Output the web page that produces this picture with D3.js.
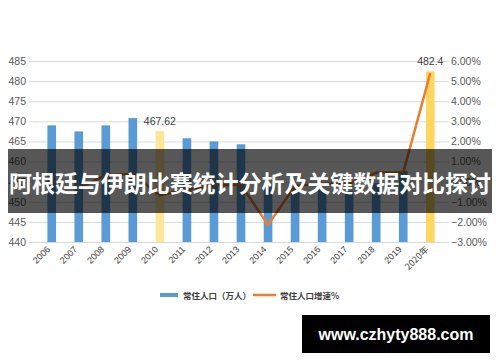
<!DOCTYPE html>
<html>
<head>
<meta charset="utf-8">
<script src="https://cdn.jsdelivr.net/npm/d3@7"></script>
<style>
  body { margin: 0; background: #fff; }
  svg text { font-family: "Liberation Sans", Arial, sans-serif; }
  .cjk { font-family: "Noto Sans CJK SC", sans-serif; }
</style>
</head>
<body>
<div id="app"></div>
<script>
const years = ['2006', '2007', '2008', '2009', '2010', '2011', '2012', '2013', '2014', '2015', '2016', '2017', '2018', '2019', '2020年'];
const population = [469, 467.5, 469, 470.8, 467.62, 465.8, 465, 464.3, 454.3, 453.5, 453.0, 452.6, 454.6, 457.7, 482.4];
// growth %, first year has no value
const growth = [null, -0.32, 0.32, 0.38, -0.68, -0.39, -0.17, -0.15, -2.15, -0.2, -0.1, -0.1, 0.45, 0.45, 5.4];
const leftTicks = [440, 445, 450, 455, 460, 465, 470, 475, 480, 485];
const rightTicks = [-3, -2, -1, 0, 1, 2, 3, 4, 5, 6];
const highlight = { '2010': '#ffe699', '2020年': '#ffd75e' };
const valueLabels = { '2010': '467.62', '2020年': '482.4' };
const title = '阿根廷与伊朗比赛统计分析及关键数据对比探讨';
const site = 'www.czhyty888.com';

function render() {
  const width = 500;
  const height = 362;
  const svg = d3.select('#app').append('svg').attr('width', width).attr('height', height);

  const x = d3.scaleBand(years, [29, 453]).padding(0.68);
  const y = d3.scaleLinear([440, 485], [242, 61]);
  const y2 = d3.scaleLinear([-3, 6], [242, 61]);

  // grid
  svg.append('g').selectAll('line').data(leftTicks).join('line')
    .attr('x1', 29).attr('x2', 449)
    .attr('y1', d => y(d) + 0.5).attr('y2', d => y(d) + 0.5)
    .attr('stroke', '#d9d9d9');

  // left axis
  const leftAxis = svg.append('g').attr('transform', 'translate(26,0)')
    .call(d3.axisLeft(y).tickValues(leftTicks).tickSize(0).tickPadding(0));
  leftAxis.select('.domain').remove();
  leftAxis.selectAll('text').attr('font-size', 10.5).attr('fill', '#595959')
    .attr('font-family', '"Liberation Sans", Arial, sans-serif');

  // right axis
  const rightAxis = svg.append('g').attr('transform', 'translate(451,0)')
    .call(d3.axisRight(y2).tickValues(rightTicks).tickSize(0).tickPadding(0)
      .tickFormat(d => (d < 0 ? '\u2212' + Math.abs(d).toFixed(2) : d.toFixed(2)) + '%'));
  rightAxis.select('.domain').remove();
  rightAxis.selectAll('text').attr('font-size', 10.5).attr('fill', '#595959')
    .attr('font-family', '"Liberation Sans", Arial, sans-serif');

  // bars
  svg.append('g').selectAll('rect').data(years).join('rect')
    .attr('x', d => x(d))
    .attr('width', x.bandwidth())
    .attr('y', (d, i) => y(population[i]))
    .attr('height', (d, i) => y(440) - y(population[i]))
    .attr('fill', d => highlight[d] || '#5b9bd5');

  // growth line
  const line = d3.line()
    .defined(d => d[1] != null)
    .x(d => x(d[0]) + x.bandwidth() / 2)
    .y(d => y2(d[1]));
  svg.append('path')
    .datum(years.map((d, i) => [d, growth[i]]))
    .attr('d', line)
    .attr('fill', 'none')
    .attr('stroke', '#ed7d31')
    .attr('stroke-width', 2.5)
    .attr('stroke-linejoin', 'round');

  // value labels
  svg.append('g').selectAll('text').data(Object.keys(valueLabels)).join('text')
    .attr('x', d => x(d) + x.bandwidth() / 2)
    .attr('y', d => y(population[years.indexOf(d)]) - 6)
    .attr('text-anchor', 'middle')
    .attr('font-size', 10.5)
    .attr('fill', '#404040')
    .text(d => valueLabels[d]);

  // x labels
  svg.append('g').selectAll('text').data(years).join('text')
    .attr('class', d => d.includes('年') ? 'cjk' : null)
    .attr('transform', d => `translate(${x(d) + x.bandwidth() / 2 - 1},250) rotate(-45)`)
    .attr('text-anchor', 'end')
    .attr('font-size', 9)
    .attr('fill', '#404040')
    .text(d => d);

  // legend
  const lg = svg.append('g');
  lg.append('rect').attr('x', 160).attr('y', 293).attr('width', 18).attr('height', 4).attr('fill', '#5b9bd5');
  lg.append('text').attr('class', 'cjk').attr('x', 183).attr('y', 298.5)
    .attr('font-size', 8.5).attr('font-weight', 'bold').attr('fill', '#404040').text('常住人口（万人）');
  lg.append('line').attr('x1', 253).attr('x2', 276).attr('y1', 295).attr('y2', 295)
    .attr('stroke', '#ed7d31').attr('stroke-width', 2.5);
  lg.append('text').attr('class', 'cjk').attr('x', 280).attr('y', 298.5)
    .attr('font-size', 8.5).attr('font-weight', 'bold').attr('fill', '#404040').text('常住人口增速%');

  // title band
  svg.append('rect').attr('x', 8).attr('y', 149).attr('width', 484).attr('height', 64)
    .attr('fill', 'rgba(0,0,0,0.66)');
  svg.append('text').attr('class', 'cjk')
    .attr('x', 250).attr('y', 192)
    .attr('text-anchor', 'middle')
    .attr('font-size', 23)
    .attr('font-weight', 'bold')
    .attr('fill', '#fff')
    .attr('textLength', 482)
    .text(title);

  // site box
  svg.append('rect').attr('x', 302).attr('y', 315).attr('width', 188).attr('height', 38).attr('fill', '#000');
  svg.append('text')
    .attr('x', 396).attr('y', 340)
    .attr('text-anchor', 'middle')
    .attr('font-size', 16)
    .attr('font-weight', 'bold')
    .attr('font-family', '"Open Sans", "DejaVu Sans", sans-serif')
    .attr('fill', '#fff')
    .text(site);
}

render();
</script>
</body>
</html>
